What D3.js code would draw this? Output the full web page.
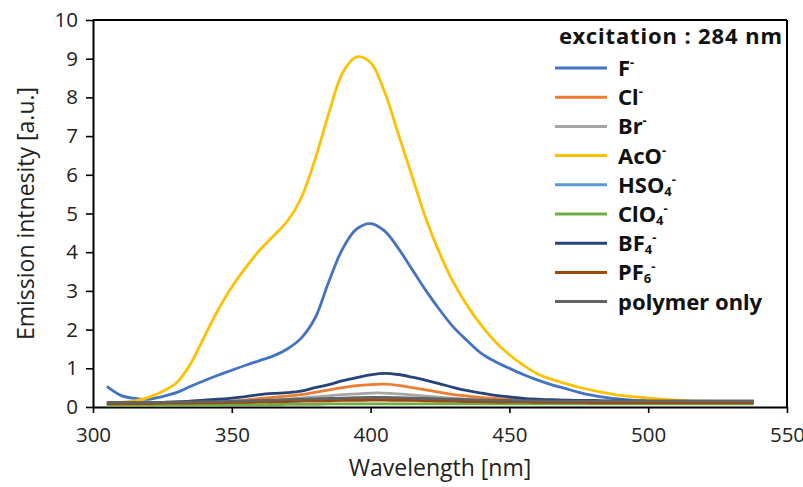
<!DOCTYPE html>
<html>
<head>
<meta charset="utf-8">
<script src="https://cdn.jsdelivr.net/npm/d3@7"></script>
<style>
  body { margin: 0; background: #fff; }
  svg { display: block; }
</style>
</head>
<body>
<div id="chart"></div>
<script>
// wavelength [nm]
const wavelength = [305, 310, 315, 320, 325, 330, 335, 340, 345, 350, 355, 360, 365, 370, 375, 380,
  385, 390, 395, 400, 405, 410, 415, 420, 425, 430, 435, 440, 445, 450, 455, 460,
  465, 470, 475, 480, 485, 490, 495, 500, 505, 510, 515, 520, 525, 530, 535, 538];

const fluoride = [0.53, 0.3, 0.22, 0.2, 0.27, 0.37, 0.53, 0.68, 0.82, 0.95, 1.08, 1.2, 1.32, 1.5, 1.78, 2.3,
  3.25, 4.1, 4.6, 4.74, 4.55, 4.1, 3.55, 3.0, 2.5, 2.05, 1.7, 1.38, 1.17, 1.0, 0.84, 0.7,
  0.58, 0.48, 0.38, 0.3, 0.24, 0.2, 0.17, 0.16, 0.15, 0.15, 0.14, 0.14, 0.14, 0.14, 0.14, 0.14];
const chloride = [0.08, 0.08, 0.08, 0.09, 0.1, 0.1, 0.11, 0.12, 0.13, 0.15, 0.18, 0.22, 0.25, 0.28, 0.32, 0.38,
  0.44, 0.5, 0.55, 0.58, 0.59, 0.56, 0.5, 0.44, 0.38, 0.32, 0.28, 0.24, 0.22, 0.2, 0.18, 0.17,
  0.16, 0.15, 0.15, 0.14, 0.14, 0.14, 0.13, 0.13, 0.13, 0.13, 0.13, 0.13, 0.13, 0.13, 0.13, 0.13];
const bromide = [0.07, 0.07, 0.07, 0.08, 0.08, 0.09, 0.1, 0.1, 0.11, 0.12, 0.14, 0.16, 0.18, 0.2, 0.23, 0.26,
  0.29, 0.32, 0.34, 0.36, 0.36, 0.34, 0.31, 0.28, 0.25, 0.22, 0.2, 0.18, 0.17, 0.16, 0.15, 0.14,
  0.14, 0.13, 0.13, 0.13, 0.13, 0.13, 0.13, 0.13, 0.12, 0.12, 0.12, 0.12, 0.12, 0.12, 0.12, 0.12];
const acetate = [0.1, 0.12, 0.16, 0.25, 0.4, 0.62, 1.1, 1.8, 2.5, 3.1, 3.6, 4.05, 4.42, 4.8, 5.4, 6.4,
  7.6, 8.65, 9.05, 8.9, 8.15, 7.05, 5.95, 4.85, 3.95, 3.2, 2.6, 2.1, 1.68, 1.35, 1.08, 0.86,
  0.72, 0.61, 0.51, 0.43, 0.36, 0.3, 0.26, 0.23, 0.2, 0.18, 0.16, 0.15, 0.14, 0.14, 0.13, 0.13];
const hydrogensulfate = [0.06, 0.06, 0.06, 0.07, 0.07, 0.08, 0.08, 0.09, 0.1, 0.11, 0.12, 0.13, 0.14, 0.15, 0.16, 0.18,
  0.19, 0.2, 0.21, 0.22, 0.22, 0.21, 0.2, 0.18, 0.17, 0.16, 0.15, 0.14, 0.14, 0.13, 0.13, 0.13,
  0.12, 0.12, 0.12, 0.12, 0.12, 0.12, 0.12, 0.12, 0.12, 0.12, 0.12, 0.12, 0.12, 0.12, 0.12, 0.12];
const perchlorate = [0.04, 0.04, 0.04, 0.04, 0.04, 0.05, 0.05, 0.05, 0.05, 0.06, 0.06, 0.06, 0.06, 0.07, 0.07, 0.07,
  0.08, 0.08, 0.08, 0.08, 0.08, 0.08, 0.08, 0.08, 0.08, 0.08, 0.08, 0.08, 0.08, 0.08, 0.08, 0.08,
  0.08, 0.08, 0.08, 0.08, 0.08, 0.08, 0.08, 0.08, 0.08, 0.08, 0.08, 0.08, 0.08, 0.08, 0.08, 0.08];
const tetrafluoroborate = [0.1, 0.1, 0.1, 0.11, 0.12, 0.13, 0.15, 0.18, 0.2, 0.23, 0.27, 0.32, 0.35, 0.37, 0.41, 0.5,
  0.58, 0.68, 0.76, 0.83, 0.87, 0.84, 0.77, 0.69, 0.6, 0.5, 0.42, 0.36, 0.3, 0.26, 0.22, 0.2,
  0.19, 0.18, 0.17, 0.17, 0.16, 0.16, 0.15, 0.15, 0.15, 0.15, 0.15, 0.15, 0.15, 0.15, 0.15, 0.15];
const hexafluorophosphate = [0.09, 0.09, 0.09, 0.09, 0.1, 0.1, 0.1, 0.11, 0.11, 0.12, 0.12, 0.13, 0.13, 0.14, 0.15, 0.15,
  0.16, 0.17, 0.17, 0.18, 0.18, 0.17, 0.17, 0.16, 0.15, 0.15, 0.14, 0.14, 0.13, 0.13, 0.13, 0.12,
  0.12, 0.12, 0.12, 0.11, 0.11, 0.11, 0.11, 0.11, 0.11, 0.11, 0.11, 0.11, 0.11, 0.11, 0.11, 0.11];
const polymerOnly = [0.12, 0.12, 0.12, 0.12, 0.12, 0.13, 0.13, 0.14, 0.14, 0.15, 0.16, 0.17, 0.18, 0.19, 0.2, 0.21,
  0.22, 0.23, 0.24, 0.25, 0.25, 0.24, 0.23, 0.22, 0.21, 0.2, 0.19, 0.18, 0.17, 0.17, 0.16, 0.16,
  0.15, 0.15, 0.15, 0.15, 0.15, 0.15, 0.15, 0.15, 0.15, 0.15, 0.15, 0.15, 0.15, 0.15, 0.15, 0.15];

// legend names: [main text, subscript, superscript]
const seriesNames = [["F", "", "-"], ["Cl", "", "-"], ["Br", "", "-"], ["AcO", "", "-"], ["HSO", "4", "-"],
  ["ClO", "4", "-"], ["BF", "4", "-"], ["PF", "6", "-"], ["polymer only", "", ""]];
const seriesValues = [fluoride, chloride, bromide, acetate, hydrogensulfate, perchlorate,
  tetrafluoroborate, hexafluorophosphate, polymerOnly];
const seriesColors = ["#4472C4", "#ED7D31", "#A5A5A5", "#FFC000", "#5B9BD5", "#70AD47",
  "#264478", "#9E480E", "#636363"];

const xTicks = [300, 350, 400, 450, 500, 550];
const yTicks = [0, 1, 2, 3, 4, 5, 6, 7, 8, 9, 10];

const width = 803;
const height = 487;
const margin = {top: 20, right: 16, bottom: 80, left: 93};

const svg = d3.select("#chart").append("svg")
    .attr("width", width)
    .attr("height", height);

const x = d3.scaleLinear().domain([300, 550]).range([margin.left, width - margin.right]);
const y = d3.scaleLinear().domain([0, 10]).range([height - margin.bottom, margin.top]);

const font = "'Open Sans', sans-serif";

// axes
const xAxis = svg.append("g")
    .attr("transform", `translate(0,${y(0)})`)
    .call(d3.axisBottom(x).tickValues(xTicks).tickSize(6).tickSizeOuter(0).tickPadding(14));
const yAxis = svg.append("g")
    .attr("transform", `translate(${x(300)},0)`)
    .call(d3.axisLeft(y).tickValues(yTicks).tickSize(7).tickSizeOuter(0).tickPadding(8));

[xAxis, yAxis].forEach(g => {
  g.select(".domain").attr("stroke", "#000").attr("stroke-width", 2);
  g.selectAll(".tick line").attr("stroke", "#000").attr("stroke-width", 1.6);
  g.selectAll(".tick text").attr("fill", "#222").style("font-family", font).style("font-size", "20.5px");
});

// frame top / right
svg.append("line")
    .attr("x1", x(300)).attr("x2", x(550)).attr("y1", y(10)).attr("y2", y(10))
    .attr("stroke", "#000").attr("stroke-width", 2);
svg.append("line")
    .attr("x1", x(550)).attr("x2", x(550)).attr("y1", y(10)).attr("y2", y(0))
    .attr("stroke", "#000").attr("stroke-width", 2);

// axis titles
svg.append("text")
    .attr("x", 440)
    .attr("y", 476)
    .attr("text-anchor", "middle")
    .style("font-family", font).style("font-size", "23px").attr("fill", "#222")
    .text("Wavelength [nm]");

svg.append("text")
    .attr("transform", `translate(34,${(y(0) + y(10)) / 2}) rotate(-90)`)
    .attr("text-anchor", "middle")
    .style("font-family", font).style("font-size", "23px").attr("fill", "#222")
    .text("Emission intnesity [a.u.]");

// lines
const line = d3.line()
    .x((d, i) => x(wavelength[i]))
    .y(d => y(d))
    .curve(d3.curveCatmullRom);

svg.append("g")
    .selectAll("path")
    .data(seriesValues)
    .enter().append("path")
    .attr("d", d => line(d))
    .attr("fill", "none")
    .attr("stroke", (d, i) => seriesColors[i])
    .attr("stroke-width", 2.8)
    .attr("stroke-linejoin", "round");

// legend
const legendFont = "'Noto Sans', sans-serif";
svg.append("text")
    .attr("x", 559).attr("y", 44)
    .style("font-family", legendFont).style("font-size", "22px").style("font-weight", "bold")
    .style("letter-spacing", "0.9px")
    .attr("fill", "#111")
    .text("excitation : 284 nm");

const legend = svg.append("g")
    .selectAll("g")
    .data(seriesNames)
    .enter().append("g")
    .attr("transform", (d, i) => `translate(555,${68 + i * 29.2})`);

legend.append("line")
    .attr("x1", 0).attr("x2", 52)
    .attr("stroke", (d, i) => seriesColors[i])
    .attr("stroke-width", 3);

const label = legend.append("text")
    .attr("x", 63).attr("y", 8)
    .style("font-family", legendFont).style("font-size", "22px").style("font-weight", "bold")
    .attr("fill", "#111");

label.append("tspan").text(d => d[0]);
label.filter(d => d[1] !== "").append("tspan")
    .attr("dy", 3).style("font-size", "13px").text(d => d[1]);
label.filter(d => d[2] !== "").append("tspan")
    .attr("dy", d => d[1] !== "" ? -12 : -9).style("font-size", "13px").text(d => d[2]);
</script>
</body>
</html>
